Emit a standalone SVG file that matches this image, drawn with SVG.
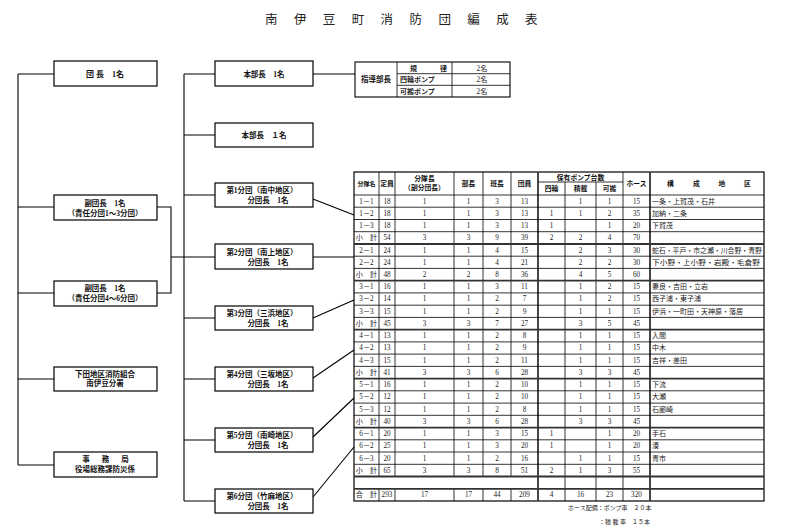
<svg xmlns="http://www.w3.org/2000/svg" width="800" height="526" viewBox="0 0 800 526">
<style>
.bx{fill:#fff;stroke:#000;stroke-width:1.2}
.cn{stroke:#000;stroke-width:1.1;fill:none}
.tx{font-family:"Liberation Serif","Noto Sans CJK JP",serif;font-size:7.5px;font-weight:bold;text-anchor:middle;fill:#111}
.ti{font-family:"Liberation Serif","Noto Sans CJK JP",serif;font-size:12.5px;fill:#222}
.td{font-family:"Liberation Serif","Noto Sans CJK JP",serif;font-size:7.2px;text-anchor:middle;fill:#222}
.tl{font-family:"Liberation Serif","Noto Sans CJK JP",serif;font-size:7px;fill:#222}
.th{font-family:"Liberation Serif","Noto Sans CJK JP",serif;font-size:6.8px;font-weight:bold;text-anchor:middle;fill:#111}
.gl{stroke:#000;stroke-width:0.8;fill:none}
.dl{stroke:#333;stroke-width:1.8;fill:none}
</style>
<rect width="800" height="526" fill="#fff"/>
<text class="ti" x="265 293.9 322.8 351.7 380.6 409.5 438.4 467.3 496.2 525.1" y="23.5">南伊豆町消防団編成表</text>

<g id="connectors">
<path class="cn" d="M18 74V465M18 74H54M18 207H54M18 293H54M18 379H54M18 465H54"/>
<path class="cn" d="M157 207H171V293H157M171 257H215"/>
<path class="cn" d="M184 74V501M184 74H215M184 135H215M184 195H215M184 318H215M184 379H215M184 440H215M184 501H215"/>
<path class="cn" d="M313 74H355"/>
<path class="cn" d="M313 199L354 215M313 257H354M313 318L354 300M313 378L354 350M313 437L354 398M313 497L354 447"/>
</g>

<g id="n-dancho"><rect class="bx" x="54" y="61" width="103" height="25"/><text class="tx" x="105" y="76.5" style="font-size:8px">団 長　1名</text></g>
<g id="n-fuku1"><rect class="bx" x="54" y="195" width="103" height="25"/><text class="tx" x="105" y="205.5">副団長　1名</text><text class="tx" x="105" y="215.5">（責任分団1～3分団）</text></g>
<g id="n-fuku2"><rect class="bx" x="54" y="281" width="103" height="25"/><text class="tx" x="105" y="291">副団長　1名</text><text class="tx" x="105" y="301">（責任分団4～6分団）</text></g>
<g id="n-shimoda"><rect class="bx" x="54" y="367" width="103" height="24"/><text class="tx" x="105" y="376.5">下田地区消防組合</text><text class="tx" x="105" y="386">南伊豆分署</text></g>
<g id="n-jimu"><rect class="bx" x="54" y="452" width="103" height="25"/><text class="tx" x="86 105.5 125" y="461.5">事務局</text><text class="tx" x="105" y="471.5">役場総務課防災係</text></g>

<g id="n-honbu1"><rect class="bx" x="215" y="61" width="98" height="25"/><text class="tx" x="264" y="76.5">本部長　1名</text></g>
<g id="n-honbu2"><rect class="bx" x="215" y="123" width="98" height="24"/><text class="tx" x="264" y="138">本部長　１名</text></g>
<g id="n-bu1"><rect class="bx" x="215" y="183" width="98" height="24"/><text class="tx" x="262" y="193">第1分団（南中地区）</text><text class="tx" x="268" y="203">分団長　1名</text></g>
<g id="n-bu2"><rect class="bx" x="215" y="244" width="98" height="25"/><text class="tx" x="262" y="254.5">第2分団（南上地区）</text><text class="tx" x="268" y="264.5">分団長　1名</text></g>
<g id="n-bu3"><rect class="bx" x="215" y="306" width="98" height="24"/><text class="tx" x="262" y="316">第3分団（三浜地区）</text><text class="tx" x="268" y="326">分団長　1名</text></g>
<g id="n-bu4"><rect class="bx" x="215" y="367" width="98" height="24"/><text class="tx" x="262" y="377">第4分団（三坂地区）</text><text class="tx" x="268" y="387">分団長　1名</text></g>
<g id="n-bu5"><rect class="bx" x="215" y="428" width="98" height="24"/><text class="tx" x="262" y="438">第5分団（南崎地区）</text><text class="tx" x="268" y="448">分団長　1名</text></g>
<g id="n-bu6"><rect class="bx" x="215" y="489" width="98" height="24"/><text class="tx" x="262" y="499">第6分団（竹麻地区）</text><text class="tx" x="268" y="509">分団長　1名</text></g>

<g id="n-shido">
<rect x="355" y="62" width="155" height="35" fill="#fff" stroke="#000" stroke-width="1.1"/>
<path class="gl" d="M397 62V97M452 62V97M397 73.7H510M397 85.3H510"/>
<text class="tx" x="376" y="82">指導部長</text>
<text class="tl" x="410 440" y="70.5" style="font-weight:bold">規律</text>
<text class="tl" x="400" y="82" style="font-weight:bold">四輪ポンプ</text>
<text class="tl" x="400" y="93.5" style="font-weight:bold">可搬ポンプ</text>
<text class="td" x="482" y="70.5">2名</text>
<text class="td" x="482" y="82">2名</text>
<text class="td" x="482" y="93.5">2名</text>
</g>

<g id="n-table">
<rect x="354" y="172" width="410" height="329" fill="#fff" stroke="#000" stroke-width="1.2"/>
<path class="gl" d="M379 172V476.5M395 172V476.5M454 172V476.5M483 172V476.5M511 172V476.5M379 488.8V501M395 488.8V501M454 488.8V501M483 488.8V501M511 488.8V501M565 182V501M596 182V501M623 172V501M538 182H623"/>
<path class="dl" d="M538 172V501M650 172V501"/>
<path class="gl" d="M354 195H764M354 207.2H764M354 219.5H764M354 231.7H764M354 256.2H764M354 268.4H764M354 292.9H764M354 305.2H764M354 317.4H764M354 341.9H764M354 354.1H764M354 366.4H764M354 390.8H764M354 403.1H764M354 415.3H764M354 439.8H764M354 452H764M354 464.3H764"/>
<path class="dl" d="M354 244H764M354 280.7H764M354 329.6H764M354 378.6H764M354 427.6H764M354 476.5H764M354 488.8H764"/>

<text class="th" x="366.5" y="185.5" style="font-size:6px">分隊名</text>
<text class="th" x="387" y="186">定員</text>
<text class="th" x="424.5" y="180.5">分隊長</text>
<text class="th" x="424.5" y="190">（副分団長）</text>
<text class="th" x="468.5" y="186">部長</text>
<text class="th" x="497" y="186">班長</text>
<text class="th" x="524.5" y="186">団員</text>
<text class="th" x="580.5" y="179.5">保有ポンプ台数</text>
<text class="th" x="551.5" y="191">四輪</text>
<text class="th" x="580.5" y="191">積載</text>
<text class="th" x="609.5" y="191">可搬</text>
<text class="th" x="636.5" y="186">ホース</text>
<text class="th" x="667 693 718.5 744" y="186" style="text-anchor:start">構成地区</text>

<text class="td" y="203.5"><tspan x="366.5">1－1</tspan><tspan x="387">18</tspan><tspan x="424.5">1</tspan><tspan x="468.5">1</tspan><tspan x="497">3</tspan><tspan x="524.5">13</tspan><tspan x="580.5">1</tspan><tspan x="609.5">1</tspan><tspan x="636.5">15</tspan></text>
<text class="td" y="215.8"><tspan x="366.5">1－2</tspan><tspan x="387">18</tspan><tspan x="424.5">1</tspan><tspan x="468.5">1</tspan><tspan x="497">3</tspan><tspan x="524.5">13</tspan><tspan x="551.5">1</tspan><tspan x="580.5">1</tspan><tspan x="609.5">2</tspan><tspan x="636.5">35</tspan></text>
<text class="td" y="228"><tspan x="366.5">1－3</tspan><tspan x="387">18</tspan><tspan x="424.5">1</tspan><tspan x="468.5">1</tspan><tspan x="497">3</tspan><tspan x="524.5">13</tspan><tspan x="551.5">1</tspan><tspan x="609.5">1</tspan><tspan x="636.5">20</tspan></text>
<text class="td" y="240.2"><tspan x="366.5">小　計</tspan><tspan x="387">54</tspan><tspan x="424.5">3</tspan><tspan x="468.5">3</tspan><tspan x="497">9</tspan><tspan x="524.5">39</tspan><tspan x="551.5">2</tspan><tspan x="580.5">2</tspan><tspan x="609.5">4</tspan><tspan x="636.5">70</tspan></text>
<text class="td" y="252.5"><tspan x="366.5">2－1</tspan><tspan x="387">24</tspan><tspan x="424.5">1</tspan><tspan x="468.5">1</tspan><tspan x="497">4</tspan><tspan x="524.5">15</tspan><tspan x="580.5">2</tspan><tspan x="609.5">3</tspan><tspan x="636.5">30</tspan></text>
<text class="td" y="264.7"><tspan x="366.5">2－2</tspan><tspan x="387">24</tspan><tspan x="424.5">1</tspan><tspan x="468.5">1</tspan><tspan x="497">4</tspan><tspan x="524.5">21</tspan><tspan x="580.5">2</tspan><tspan x="609.5">2</tspan><tspan x="636.5">30</tspan></text>
<text class="td" y="277"><tspan x="366.5">小　計</tspan><tspan x="387">48</tspan><tspan x="424.5">2</tspan><tspan x="468.5">2</tspan><tspan x="497">8</tspan><tspan x="524.5">36</tspan><tspan x="580.5">4</tspan><tspan x="609.5">5</tspan><tspan x="636.5">60</tspan></text>
<text class="td" y="289.2"><tspan x="366.5">3－1</tspan><tspan x="387">16</tspan><tspan x="424.5">1</tspan><tspan x="468.5">1</tspan><tspan x="497">3</tspan><tspan x="524.5">11</tspan><tspan x="580.5">1</tspan><tspan x="609.5">2</tspan><tspan x="636.5">15</tspan></text>
<text class="td" y="301.4"><tspan x="366.5">3－2</tspan><tspan x="387">14</tspan><tspan x="424.5">1</tspan><tspan x="468.5">1</tspan><tspan x="497">2</tspan><tspan x="524.5">7</tspan><tspan x="580.5">1</tspan><tspan x="609.5">2</tspan><tspan x="636.5">15</tspan></text>
<text class="td" y="313.7"><tspan x="366.5">3－3</tspan><tspan x="387">15</tspan><tspan x="424.5">1</tspan><tspan x="468.5">1</tspan><tspan x="497">2</tspan><tspan x="524.5">9</tspan><tspan x="580.5">1</tspan><tspan x="609.5">1</tspan><tspan x="636.5">15</tspan></text>
<text class="td" y="325.9"><tspan x="366.5">小　計</tspan><tspan x="387">45</tspan><tspan x="424.5">3</tspan><tspan x="468.5">3</tspan><tspan x="497">7</tspan><tspan x="524.5">27</tspan><tspan x="580.5">3</tspan><tspan x="609.5">5</tspan><tspan x="636.5">45</tspan></text>
<text class="td" y="338.2"><tspan x="366.5">4－1</tspan><tspan x="387">13</tspan><tspan x="424.5">1</tspan><tspan x="468.5">1</tspan><tspan x="497">2</tspan><tspan x="524.5">8</tspan><tspan x="580.5">1</tspan><tspan x="609.5">1</tspan><tspan x="636.5">15</tspan></text>
<text class="td" y="350.4"><tspan x="366.5">4－2</tspan><tspan x="387">13</tspan><tspan x="424.5">1</tspan><tspan x="468.5">1</tspan><tspan x="497">2</tspan><tspan x="524.5">9</tspan><tspan x="580.5">1</tspan><tspan x="609.5">1</tspan><tspan x="636.5">15</tspan></text>
<text class="td" y="362.6"><tspan x="366.5">4－3</tspan><tspan x="387">15</tspan><tspan x="424.5">1</tspan><tspan x="468.5">1</tspan><tspan x="497">2</tspan><tspan x="524.5">11</tspan><tspan x="580.5">1</tspan><tspan x="609.5">1</tspan><tspan x="636.5">15</tspan></text>
<text class="td" y="374.9"><tspan x="366.5">小　計</tspan><tspan x="387">41</tspan><tspan x="424.5">3</tspan><tspan x="468.5">3</tspan><tspan x="497">6</tspan><tspan x="524.5">28</tspan><tspan x="580.5">3</tspan><tspan x="609.5">3</tspan><tspan x="636.5">45</tspan></text>
<text class="td" y="387.1"><tspan x="366.5">5－1</tspan><tspan x="387">16</tspan><tspan x="424.5">1</tspan><tspan x="468.5">1</tspan><tspan x="497">2</tspan><tspan x="524.5">10</tspan><tspan x="580.5">1</tspan><tspan x="609.5">1</tspan><tspan x="636.5">15</tspan></text>
<text class="td" y="399.4"><tspan x="366.5">5－2</tspan><tspan x="387">12</tspan><tspan x="424.5">1</tspan><tspan x="468.5">1</tspan><tspan x="497">2</tspan><tspan x="524.5">10</tspan><tspan x="580.5">1</tspan><tspan x="609.5">1</tspan><tspan x="636.5">15</tspan></text>
<text class="td" y="411.6"><tspan x="366.5">5－3</tspan><tspan x="387">12</tspan><tspan x="424.5">1</tspan><tspan x="468.5">1</tspan><tspan x="497">2</tspan><tspan x="524.5">8</tspan><tspan x="580.5">1</tspan><tspan x="609.5">1</tspan><tspan x="636.5">15</tspan></text>
<text class="td" y="423.8"><tspan x="366.5">小　計</tspan><tspan x="387">40</tspan><tspan x="424.5">3</tspan><tspan x="468.5">3</tspan><tspan x="497">6</tspan><tspan x="524.5">28</tspan><tspan x="580.5">3</tspan><tspan x="609.5">3</tspan><tspan x="636.5">45</tspan></text>
<text class="td" y="436.1"><tspan x="366.5">6－1</tspan><tspan x="387">20</tspan><tspan x="424.5">1</tspan><tspan x="468.5">1</tspan><tspan x="497">3</tspan><tspan x="524.5">15</tspan><tspan x="551.5">1</tspan><tspan x="609.5">1</tspan><tspan x="636.5">20</tspan></text>
<text class="td" y="448.3"><tspan x="366.5">6－2</tspan><tspan x="387">25</tspan><tspan x="424.5">1</tspan><tspan x="468.5">1</tspan><tspan x="497">3</tspan><tspan x="524.5">20</tspan><tspan x="551.5">1</tspan><tspan x="609.5">1</tspan><tspan x="636.5">20</tspan></text>
<text class="td" y="460.6"><tspan x="366.5">6－3</tspan><tspan x="387">20</tspan><tspan x="424.5">1</tspan><tspan x="468.5">1</tspan><tspan x="497">2</tspan><tspan x="524.5">16</tspan><tspan x="580.5">1</tspan><tspan x="609.5">1</tspan><tspan x="636.5">15</tspan></text>
<text class="td" y="472.8"><tspan x="366.5">小　計</tspan><tspan x="387">65</tspan><tspan x="424.5">3</tspan><tspan x="468.5">3</tspan><tspan x="497">8</tspan><tspan x="524.5">51</tspan><tspan x="551.5">2</tspan><tspan x="580.5">1</tspan><tspan x="609.5">3</tspan><tspan x="636.5">55</tspan></text>
<text class="td" y="497.3"><tspan x="366.5">合　計</tspan><tspan x="387">293</tspan><tspan x="424.5">17</tspan><tspan x="468.5">17</tspan><tspan x="497">44</tspan><tspan x="524.5">209</tspan><tspan x="551.5">4</tspan><tspan x="580.5">16</tspan><tspan x="609.5">23</tspan><tspan x="636.5">320</tspan></text>

<text class="tl" x="652" y="203.5">一条・上賀茂・石井</text>
<text class="tl" x="652" y="215.8">加納・二条</text>
<text class="tl" x="652" y="228">下賀茂</text>
<text class="tl" x="652" y="252.5" textLength="110" lengthAdjust="spacingAndGlyphs">蛇石・平戸・市之瀬・川合野・青野</text>
<text class="tl" x="652" y="264.7" textLength="108" lengthAdjust="spacingAndGlyphs">下小野・上小野・岩殿・毛倉野</text>
<text class="tl" x="652" y="289.2">妻良・吉田・立岩</text>
<text class="tl" x="652" y="301.4">西子浦・東子浦</text>
<text class="tl" x="652" y="313.7">伊浜・一町田・天神原・落居</text>
<text class="tl" x="652" y="338.2">入間</text>
<text class="tl" x="652" y="350.4">中木</text>
<text class="tl" x="652" y="362.6">吉祥・差田</text>
<text class="tl" x="652" y="387.1">下流</text>
<text class="tl" x="652" y="399.4">大瀬</text>
<text class="tl" x="652" y="411.6">石廊崎</text>
<text class="tl" x="652" y="436.1">手石</text>
<text class="tl" x="652" y="448.3">湊</text>
<text class="tl" x="652" y="460.6">青市</text>
</g>

<text class="tl" x="568" y="510" style="font-size:6px">ホース配備：ポンプ車　２０本</text>
<text class="tl" x="599" y="524" style="font-size:6px">：積 載 車　１５本</text>
</svg>
